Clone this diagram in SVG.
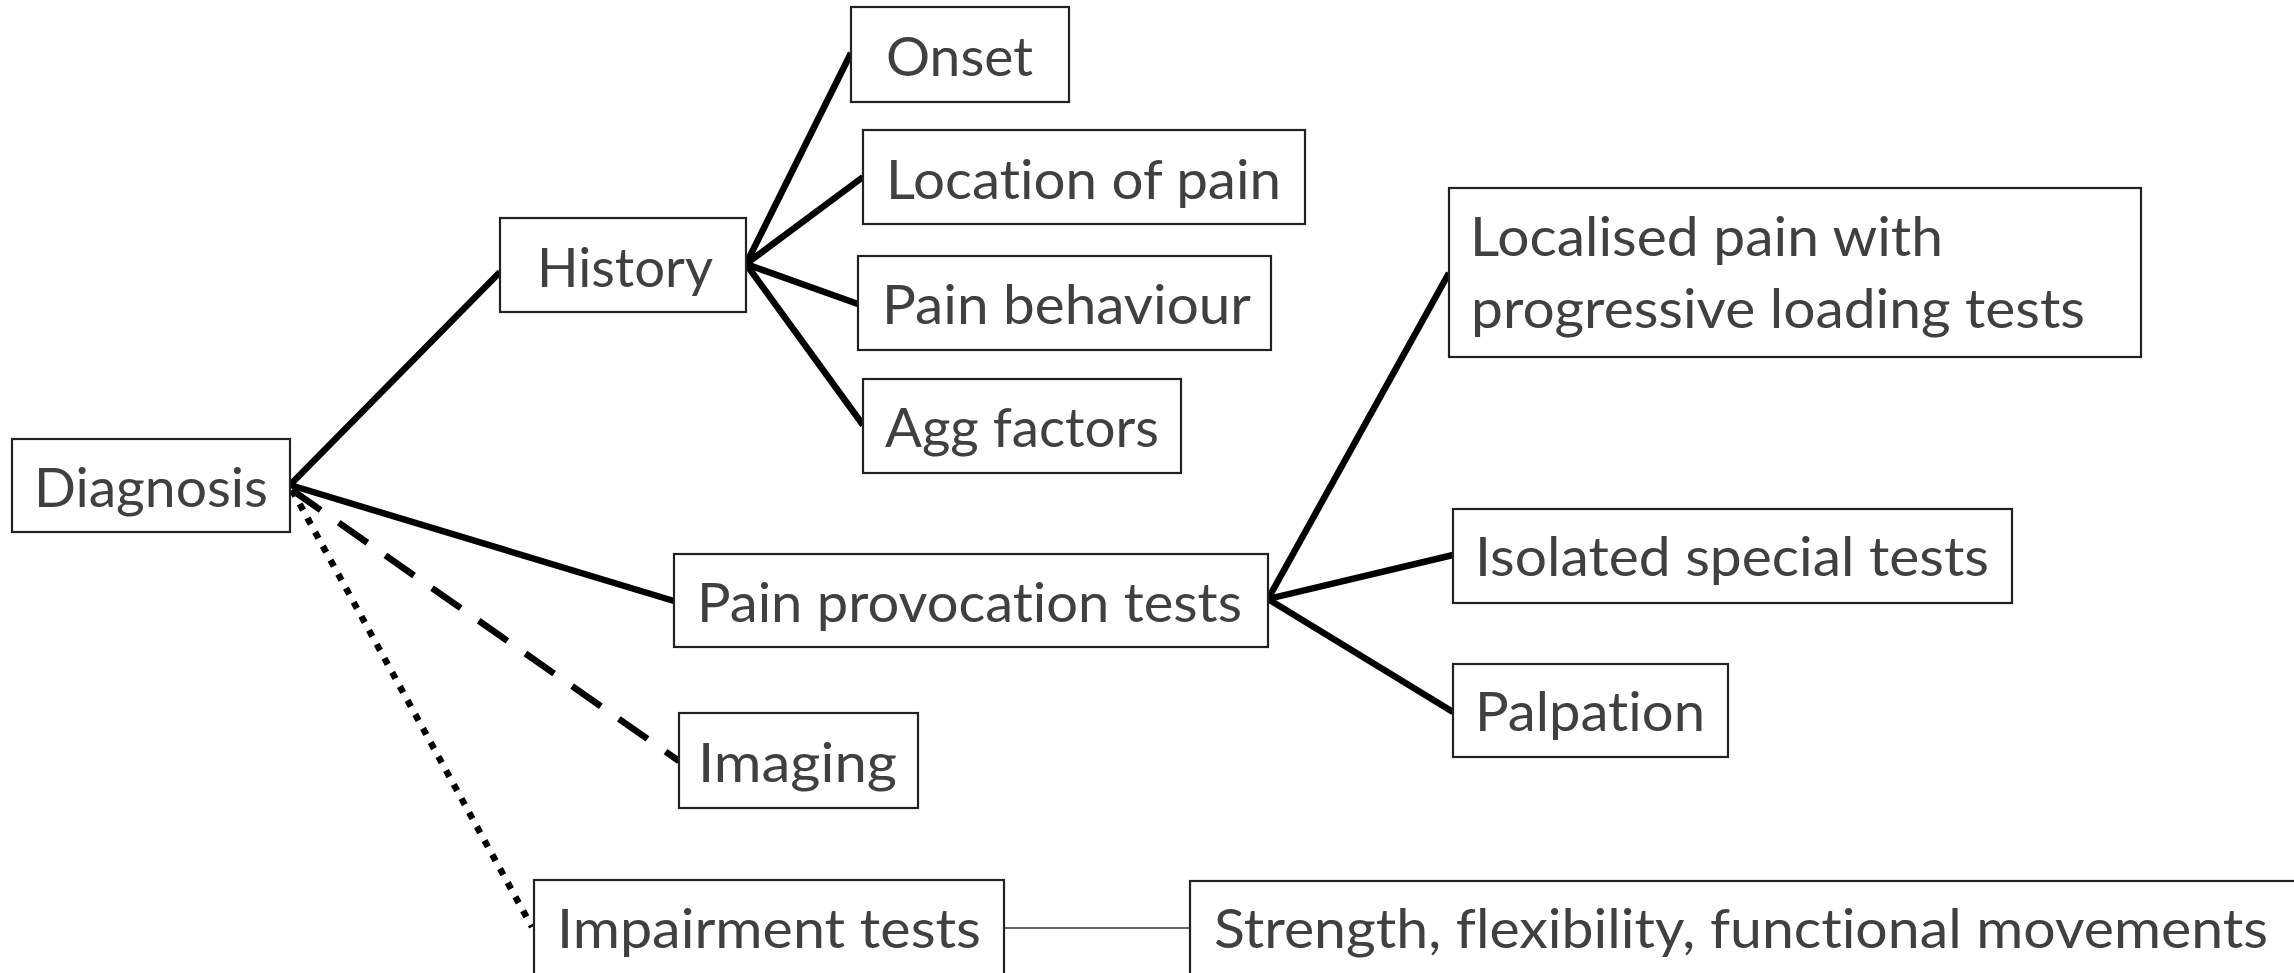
<svg xmlns="http://www.w3.org/2000/svg" width="2294" height="973" viewBox="0 0 2294 973">
<style>
.box{fill:#fff;stroke:#222;stroke-width:2.2}
.t{font-family:Lato,"Open Sans","Liberation Sans",sans-serif;font-size:55px;fill:#404040;font-variant-ligatures:none}
.c{stroke:#000;stroke-width:6.5;fill:none}
.dash{stroke-dasharray:35 22}
.dot{stroke-dasharray:7 9}
.thin{stroke:#333;stroke-width:1.5;fill:none}
</style>
<rect width="2294" height="973" fill="#fff"/>
<g id="connectors">
<line class="c" x1="290" y1="485" x2="500" y2="272"/>
<line class="c" x1="290" y1="485" x2="674" y2="601"/>
<line class="c dash" x1="292" y1="490" x2="679" y2="761"/>
<line class="c dot" x1="292" y1="490" x2="532" y2="927"/>
<line class="c" x1="746" y1="264" x2="851" y2="53"/>
<line class="c" x1="746" y1="264" x2="863" y2="177"/>
<line class="c" x1="746" y1="264" x2="858" y2="304"/>
<line class="c" x1="746" y1="264" x2="863" y2="425"/>
<line class="c" x1="1268" y1="599" x2="1449" y2="273"/>
<line class="c" x1="1268" y1="599" x2="1453" y2="555"/>
<line class="c" x1="1268" y1="599" x2="1453" y2="712"/>
<line class="thin" x1="1004" y1="928" x2="1190" y2="928"/>
</g>
<g id="diagnosis"><rect class="box" x="12" y="439" width="278" height="93"/><text class="t" x="34" y="507" textLength="234" lengthAdjust="spacingAndGlyphs">Diagnosis</text></g>
<g id="history"><rect class="box" x="500" y="218" width="246" height="94"/><text class="t" x="537" y="287" textLength="176" lengthAdjust="spacingAndGlyphs">History</text></g>
<g id="onset"><rect class="box" x="851" y="7" width="218" height="95"/><text class="t" x="886" y="76" textLength="147" lengthAdjust="spacingAndGlyphs">Onset</text></g>
<g id="location"><rect class="box" x="863" y="130" width="442" height="94"/><text class="t" x="886" y="199" textLength="395" lengthAdjust="spacingAndGlyphs">Location of pain</text></g>
<g id="behaviour"><rect class="box" x="858" y="256" width="413" height="94"/><text class="t" x="882" y="324" textLength="369" lengthAdjust="spacingAndGlyphs">Pain behaviour</text></g>
<g id="agg"><rect class="box" x="863" y="379" width="318" height="94"/><text class="t" x="885" y="447" textLength="274" lengthAdjust="spacingAndGlyphs">Agg factors</text></g>
<g id="provocation"><rect class="box" x="674" y="554" width="594" height="93"/><text class="t" x="697" y="622" textLength="545" lengthAdjust="spacingAndGlyphs">Pain provocation tests</text></g>
<g id="imaging"><rect class="box" x="679" y="713" width="239" height="95"/><text class="t" x="698" y="782" textLength="199" lengthAdjust="spacingAndGlyphs">Imaging</text></g>
<g id="impairment"><rect class="box" x="534" y="880" width="470" height="120"/><text class="t" x="557" y="948" textLength="424" lengthAdjust="spacingAndGlyphs">Impairment tests</text></g>
<g id="strength"><rect class="box" x="1190" y="881" width="1120" height="120"/><text class="t" x="1214" y="948" textLength="1054" lengthAdjust="spacingAndGlyphs">Strength, flexibility, functional movements</text></g>
<g id="localised"><rect class="box" x="1449" y="188" width="692" height="169"/><text class="t" x="1470" y="256" textLength="473" lengthAdjust="spacingAndGlyphs">Localised pain with</text><text class="t" x="1471" y="328" textLength="614" lengthAdjust="spacingAndGlyphs">progressive loading tests</text></g>
<g id="isolated"><rect class="box" x="1453" y="509" width="559" height="94"/><text class="t" x="1475" y="576" textLength="514" lengthAdjust="spacingAndGlyphs">Isolated special tests</text></g>
<g id="palpation"><rect class="box" x="1453" y="664" width="275" height="93"/><text class="t" x="1475" y="731" textLength="230" lengthAdjust="spacingAndGlyphs">Palpation</text></g>
</svg>
